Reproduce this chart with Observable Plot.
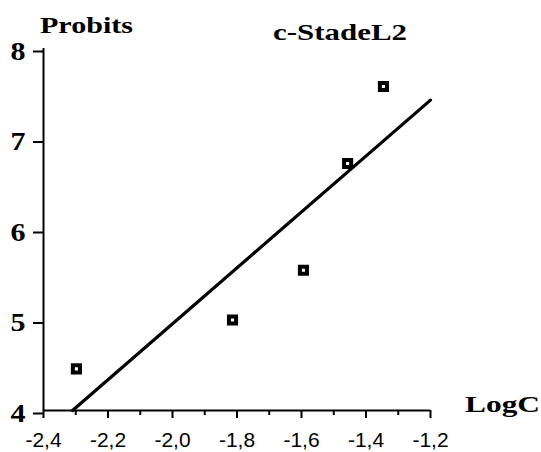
<!DOCTYPE html>
<html><head><meta charset="utf-8">
<script src="https://cdn.jsdelivr.net/npm/d3@7"></script>
<script src="https://cdn.jsdelivr.net/npm/@observablehq/plot@0.6"></script>
<style>body{margin:0;background:#fff} #chart{width:541px;height:452px}</style>
</head><body><div id="chart"></div>
<script>
const logC = [-2.298, -1.814, -1.594, -1.457, -1.346];
const probits = [4.46, 5.0, 5.55, 6.73, 7.58];
const fitLogC = [-2.31, -1.2];
const fitProbit = [4.0, 7.43];
const xTicks = [-2.4, -2.2, -2.0, -1.8, -1.6, -1.4, -1.2];
const xMinorTicks = [-2.3, -2.1, -1.9, -1.7, -1.5, -1.3];
const yTicks = [4, 5, 6, 7, 8];
const xDomain = [-2.4, -1.2];
const yDomain = [4, 8];
const yAxisTitle = "Probits", xAxisTitle = "LogC", chartTitle = "c-StadeL2";

const points = logC.map((x, i) => ({x, y: probits[i]}));
const fit = fitLogC.map((x, i) => ({x, y: fitProbit[i]}));
const fmt = d => d.toFixed(1).replace(".", ",");

const svg = Plot.plot({
  width: 541, height: 452,
  marginLeft: 43, marginRight: 111, marginTop: 48, marginBottom: 42,
  x: {domain: xDomain},
  y: {domain: yDomain},
  style: {background: "white", color: "black", overflow: "visible"},
  marks: [
    Plot.axisX({ticks: xMinorTicks, tickSize: 5, strokeWidth: 2, tickFormat: () => "", label: null}),
    Plot.axisX({ticks: xTicks, tickSize: 8, tickPadding: 14, strokeWidth: 2, tickFormat: fmt,
      fontSize: 21, fontFamily: "Liberation Sans, Arial, sans-serif", label: null}),
    Plot.axisY({ticks: yTicks, tickSize: 10, tickPadding: 8, strokeWidth: 2, dy: 3, tickFormat: d => String(d),
      fontSize: 25, fontFamily: "Liberation Serif, Times New Roman, serif", fontWeight: "bold", label: null}),
    Plot.ruleX([xDomain[0]], {y1: yDomain[0], y2: yDomain[1], strokeWidth: 2}),
    Plot.ruleY([yDomain[0]], {x1: xDomain[0], x2: xDomain[1], strokeWidth: 2}),
    Plot.line(fit, {x: "x", y: "y", strokeWidth: 3.2, stroke: "black"}),
    Plot.dot(points, {x: "x", y: "y", symbol: "square", r: 4, fill: "white", stroke: "black", strokeWidth: 4})
  ]
});
document.getElementById("chart").appendChild(svg);

const s = d3.select(svg);
s.selectAll('g[aria-label="y-axis tick label"] text')
  .attr("textLength", 15).attr("lengthAdjust", "spacingAndGlyphs");
s.selectAll('g[aria-label="x-axis tick label"] text').filter(function(){ return this.textContent === ""; }).remove();

function addTitle(txt, x, y, len) {
  s.append("text").attr("x", x).attr("y", y)
    .attr("text-anchor", "start")
    .attr("font-family", "Liberation Serif, Times New Roman, serif")
    .attr("font-weight", "bold").attr("font-size", 24).attr("fill", "black")
    .attr("textLength", len).attr("lengthAdjust", "spacingAndGlyphs")
    .text(txt);
}
addTitle(yAxisTitle, 40, 33, 93);
addTitle(chartTitle, 273, 40, 134);
addTitle(xAxisTitle, 465, 412, 75);
</script></body></html>
